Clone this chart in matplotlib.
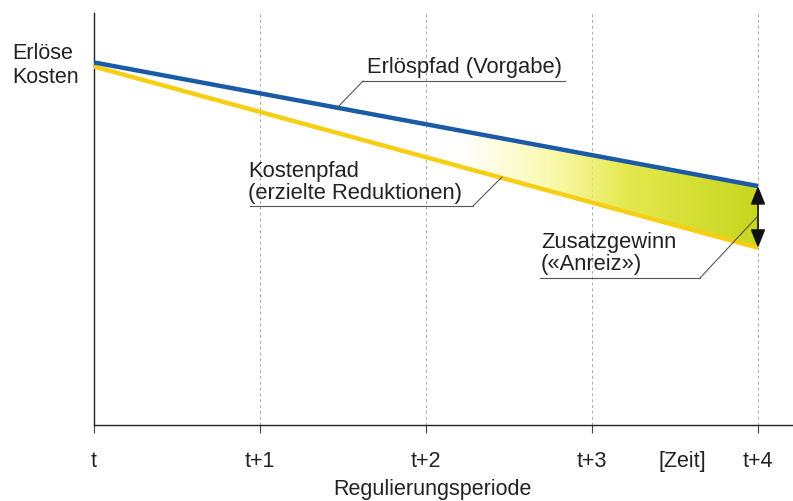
import numpy as np
import matplotlib
matplotlib.use("Agg")
import matplotlib.pyplot as plt
from matplotlib.patches import Polygon

plt.rcParams['font.family'] = ['Liberation Sans', 'DejaVu Sans']

# ---- data ----
periods = [0, 4]
period_labels = ['t', 't+1', 't+2', 't+3', 't+4']
erloes = [88, 58]      # Erlöspfad (Vorgabe)
kosten = [87, 43]      # Kostenpfad (erzielte Reduktionen)

W, H = 793, 501
fig = plt.figure(figsize=(W / 100, H / 100), dpi=100)
fig.patch.set_facecolor('white')

def px(x, y):
    return x / W, 1 - y / H

x0, xaxis_y, ytop = 94, 425, 13
ax = fig.add_axes([x0 / W, (H - xaxis_y) / H, (W - x0) / W, (xaxis_y - ytop) / H])
ax.set_xlim(0, (W - x0) / 166)
ax.set_ylim(0, 100)
ax.patch.set_alpha(0)
for s in ['top', 'right']:
    ax.spines[s].set_visible(False)
ax.spines['left'].set_color('#222222')
ax.spines['bottom'].set_color('#222222')
ax.spines['left'].set_linewidth(1.0)
ax.spines['bottom'].set_linewidth(1.0)
ax.set_yticks([])
ax.set_xticks(range(len(period_labels)))
ax.set_xticklabels(period_labels)
ax.tick_params(axis='x', direction='out', length=6, width=0.8, color='#444444',
               pad=13, labelsize=15.5, labelcolor='#222222')

# dashed vertical guides
for xv in range(1, len(period_labels)):
    ax.axvline(xv, color='#aaaaaa', lw=0.7, ls=(0, (3, 3)), zorder=1)

# gradient fill between lines
xs = np.linspace(periods[0], periods[-1], 400)
ye = np.interp(xs, periods, erloes)
yk = np.interp(xs, periods, kosten)
nx, ny = 400, 100
gx = np.linspace(periods[0], periods[-1], nx)
gy = np.linspace(40, 90, ny)
GX, GY = np.meshgrid(gx, gy)
t = np.clip((GX - 2.6) / 1.4, 0, 1)
c0 = np.array([0.98, 0.97, 0.45])
c1 = np.array([0.78, 0.84, 0.12])
img = np.zeros((ny, nx, 4))
for k in range(3):
    img[..., k] = c0[k] + (c1[k] - c0[k]) * t
alpha = np.clip((GX - 2.2) / 1.0, 0, 1)
img[..., 3] = alpha
im = ax.imshow(img, extent=[gx[0], gx[-1], gy[0], gy[-1]], origin='lower',
               aspect='auto', zorder=2, interpolation='bilinear')
poly = Polygon(np.column_stack([np.r_[xs, xs[::-1]], np.r_[ye, yk[::-1]]]),
               closed=True, transform=ax.transData, facecolor='none', edgecolor='none')
ax.add_patch(poly)
im.set_clip_path(poly)

ax.plot(periods, kosten, color='#f6cf14', lw=3.2, solid_capstyle='butt', zorder=3)
ax.plot(periods, erloes, color='#1a5aa6', lw=3.2, solid_capstyle='butt', zorder=4)

# double arrow at t+4
ax.annotate('', xy=(periods[-1], kosten[-1]), xytext=(periods[-1], erloes[-1]),
            arrowprops=dict(arrowstyle='<|-|>,head_length=0.7,head_width=0.28', color='#111111', lw=1.2,
                            mutation_scale=16, shrinkA=0, shrinkB=0), zorder=5)

txt = dict(fontsize=15.8, color='#222222')
lead = dict(color='#555555', lw=0.8)

# Erlöspfad label
fig.text(*px(367, 73), 'Erlöspfad (Vorgabe)', va='baseline', ha='left', **txt)
fig.add_artist(plt.Line2D([363 / W, 565 / W], [1 - 81 / H, 1 - 81 / H], transform=fig.transFigure, **lead))
fig.add_artist(plt.Line2D([337 / W, 363 / W], [1 - 108 / H, 1 - 81 / H], transform=fig.transFigure, **lead))

# Kostenpfad label
fig.text(*px(248, 199), 'Kostenpfad\n(erzielte Reduktionen)', va='baseline', ha='left',
         linespacing=1.08, **txt)
fig.add_artist(plt.Line2D([250 / W, 473 / W], [1 - 206 / H, 1 - 206 / H], transform=fig.transFigure, **lead))
fig.add_artist(plt.Line2D([473 / W, 502 / W], [1 - 206 / H, 1 - 177 / H], transform=fig.transFigure, **lead))

# Zusatzgewinn label
fig.text(*px(541, 270), 'Zusatzgewinn\n(«Anreiz»)', va='baseline', ha='left',
         linespacing=1.05, **txt)
fig.add_artist(plt.Line2D([540 / W, 700 / W], [1 - 278 / H, 1 - 278 / H], transform=fig.transFigure, **lead))
fig.add_artist(plt.Line2D([700 / W, 757 / W], [1 - 278 / H, 1 - 217 / H], transform=fig.transFigure, **lead))

# y-axis label
fig.text(*px(12, 83), 'Erlöse\nKosten', va='baseline', ha='left', linespacing=1.2,
         fontsize=15.5, color='#222222')

# x-axis extra labels
fig.text(*px(682, 467), '[Zeit]', va='baseline', ha='center', fontsize=15.5, color='#222222')
fig.text(*px(432, 490), 'Regulierungsperiode', va='center', ha='center', fontsize=15.5, color='#222222')

fig.savefig('out.png', dpi=100, facecolor='white')
